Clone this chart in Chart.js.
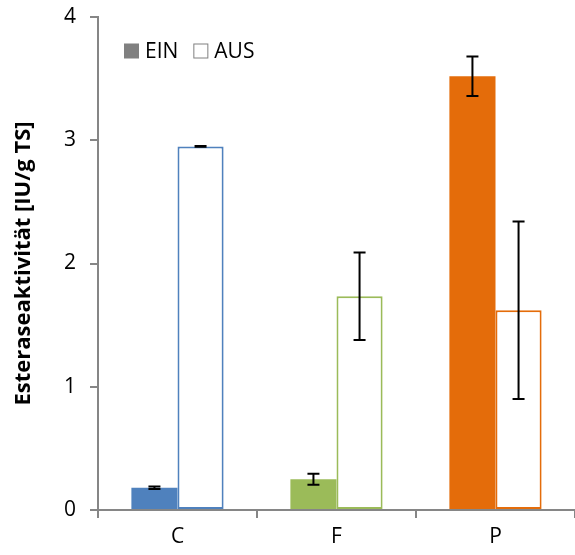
<!DOCTYPE html>
<html lang="de">
<head>
    <meta charset="UTF-8">
    <title>Esteraseaktivität</title>
    <script src="https://cdn.jsdelivr.net/npm/chart.js"></script>
    <style>
        body {
            margin: 0;
            padding: 0;
            background: white;
        }
        .wrap {
            width: 575px;
            height: 555px;
        }
    </style>
</head>
<body>
    <div class="wrap">
        <canvas id="chart" width="575" height="555"></canvas>
    </div>

    <script>
        const categories = ['C', 'F', 'P'];
        const seriesNames = ['EIN', 'AUS'];
        const einValues = [0.18, 0.25, 3.52];
        const ausValues = [2.95, 1.735, 1.62];
        const einErrors = [0.01, 0.045, 0.16];
        const ausErrors = [0.003, 0.355, 0.72];
        const yTicks = [0, 1, 2, 3, 4];
        const barColors = ['#4f81bd', '#9bbb59', '#e46c0a'];

        const axisGray = '#868686';
        const fontFamily = '"Open Sans", "Liberation Sans", sans-serif';

        // error bars drawn from the dataset values via the scales
        const errorBars = {
            id: 'errorBars',
            afterDatasetsDraw(chart) {
                const ctx = chart.ctx;
                const y = chart.scales.y;
                const errs = [einErrors, ausErrors];
                ctx.save();
                ctx.strokeStyle = '#000';
                ctx.lineWidth = 2;
                chart.data.datasets.forEach((ds, i) => {
                    const meta = chart.getDatasetMeta(i);
                    meta.data.forEach((bar, j) => {
                        const v = ds.data[j];
                        const e = errs[i][j];
                        const top = y.getPixelForValue(v + e);
                        const bot = y.getPixelForValue(v - e);
                        const cx = bar.x;
                        ctx.beginPath();
                        ctx.moveTo(cx, top);
                        ctx.lineTo(cx, bot);
                        ctx.moveTo(cx - 6, top);
                        ctx.lineTo(cx + 6, top);
                        ctx.moveTo(cx - 6, bot);
                        ctx.lineTo(cx + 6, bot);
                        ctx.stroke();
                    });
                });
                ctx.restore();
            }
        };

        // legend inside the plot, top left
        const insideLegend = {
            id: 'insideLegend',
            afterDraw(chart) {
                const ctx = chart.ctx;
                const area = chart.chartArea;
                let x = area.left + 26;
                const yMid = area.top + 34;
                ctx.save();
                ctx.font = '21px ' + fontFamily;
                ctx.textBaseline = 'middle';
                seriesNames.forEach((name, i) => {
                    if (i === 0) {
                        ctx.fillStyle = '#808080';
                        ctx.fillRect(x, yMid - 7.5, 15, 15);
                    } else {
                        ctx.strokeStyle = '#808080';
                        ctx.lineWidth = 1;
                        ctx.strokeRect(x + 0.5, yMid - 7, 14, 14);
                    }
                    ctx.fillStyle = '#000';
                    ctx.fillText(name, x + 21, yMid + 1);
                    x += 21 + ctx.measureText(name).width + 15;
                });
                ctx.restore();
            }
        };

        const ctx = document.getElementById('chart').getContext('2d');
        new Chart(ctx, {
            type: 'bar',
            data: {
                labels: categories,
                datasets: [
                    {
                        label: seriesNames[0],
                        data: einValues,
                        backgroundColor: barColors,
                        borderWidth: 0,
                    },
                    {
                        label: seriesNames[1],
                        data: ausValues,
                        backgroundColor: '#ffffff',
                        borderColor: barColors,
                        borderWidth: 2,
                        borderSkipped: false,
                    },
                ],
            },
            options: {
                responsive: false,
                animation: false,
                layout: {
                    padding: { top: 17, right: -4, left: 0, bottom: 0 },
                },
                plugins: {
                    legend: { display: false },
                    tooltip: { enabled: false },
                },
                datasets: {
                    bar: {
                        categoryPercentage: 0.58,
                        barPercentage: 1.0,
                    },
                },
                scales: {
                    x: {
                        offset: true,
                        grid: {
                            display: true,
                            drawOnChartArea: false,
                            offset: true,
                            tickLength: 8,
                            color: axisGray,
                            lineWidth: 2,
                        },
                        border: { color: axisGray, width: 2 },
                        ticks: {
                            color: '#000',
                            font: { family: fontFamily, size: 21 },
                            padding: 6,
                        },
                        afterFit: (s) => {
                            s.height = 45;
                            s.paddingLeft = 0;
                            s.paddingRight = 0;
                        },
                    },
                    y: {
                        min: 0,
                        max: 4,
                        afterBuildTicks: (s) => { s.ticks = yTicks.map((v) => ({ value: v })); },
                        grid: {
                            display: true,
                            drawOnChartArea: false,
                            tickLength: 8,
                            color: axisGray,
                            lineWidth: 2,
                        },
                        border: { color: axisGray, width: 2 },
                        ticks: {
                            color: '#000',
                            font: { family: fontFamily, size: 21 },
                            padding: 14,
                        },
                        title: {
                            display: true,
                            text: 'Esteraseaktivität [IU/g TS]',
                            color: '#000',
                            font: { family: fontFamily, size: 22, weight: 'bold' },
                            padding: { top: 11, bottom: 0 },
                        },
                        afterFit: (s) => {
                            s.width = 98;
                            s.paddingTop = 0;
                            s.paddingBottom = 0;
                        },
                    },
                },
            },
            plugins: [errorBars, insideLegend],
        });
    </script>
</body>
</html>
